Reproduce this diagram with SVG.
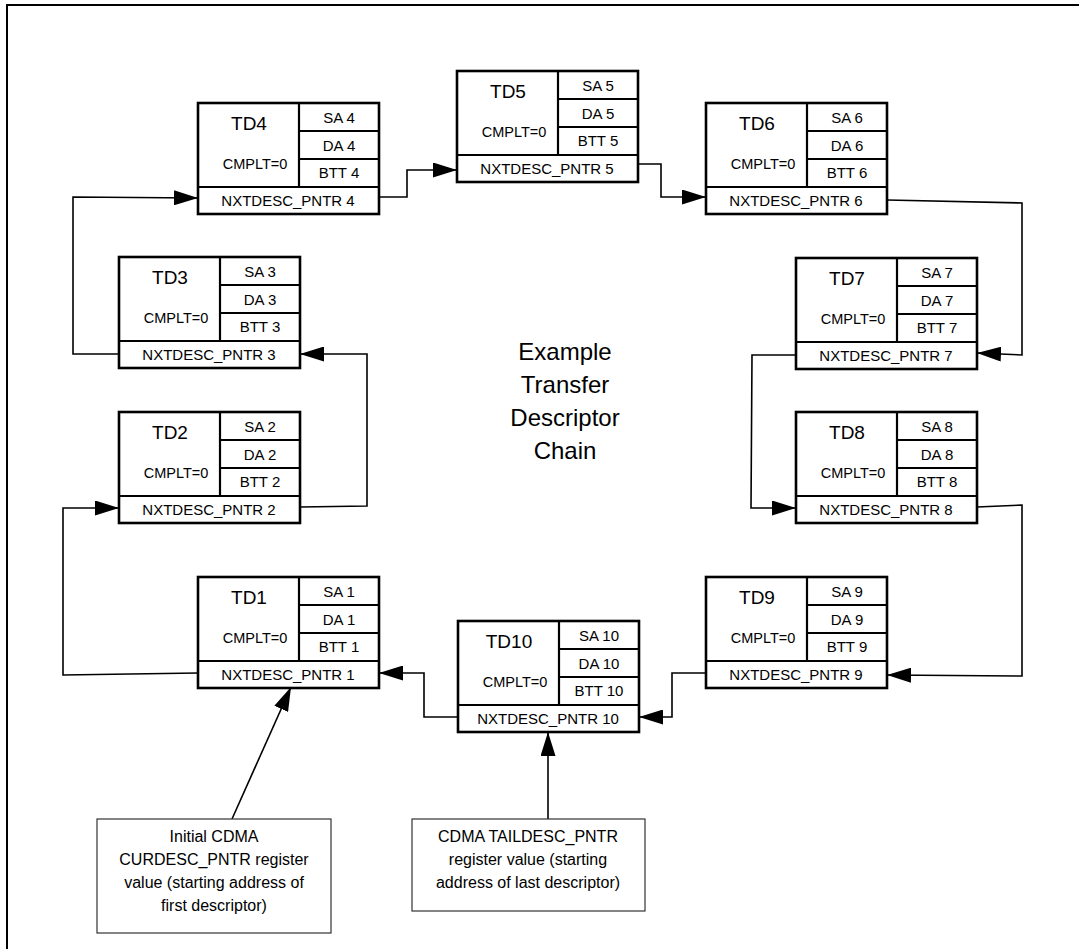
<svg xmlns="http://www.w3.org/2000/svg" width="1079" height="949" viewBox="0 0 1079 949">
<style>
  .box{fill:#fff;stroke:#000;stroke-width:2.6}
  .div{stroke:#000;stroke-width:2.2}
  text{font-family:"Liberation Sans",Arial,sans-serif;fill:#000;text-anchor:middle}
  .t{font-size:19px}
  .c{font-size:14.5px}
  .f{font-size:15px}
  .conn{fill:none;stroke:#000;stroke-width:1.6}
  .note{fill:#fff;stroke:#333;stroke-width:1.2}
  .nt{font-size:16px}
  .title{font-size:24px}
</style>
<defs>
  <marker id="ah" markerUnits="userSpaceOnUse" markerWidth="24" markerHeight="15" refX="24" refY="7.5" orient="auto">
    <path d="M0,0 L24,7.5 L0,15 z" fill="#000"/>
  </marker>
  <g id="tdframe">
    <rect class="box" x="0" y="0" width="181" height="111"/>
    <line class="div" x1="101" y1="0" x2="101" y2="84"/>
    <line class="div" x1="101" y1="28" x2="181" y2="28"/>
    <line class="div" x1="101" y1="56" x2="181" y2="56"/>
    <line class="div" x1="0" y1="84" x2="181" y2="84"/>
  </g>
</defs>
<rect width="1079" height="949" fill="#fff"/>
<polyline points="7,949 7,5 1079,5" fill="none" stroke="#000" stroke-width="2"/>

<g id="title">
  <text class="title" x="565" y="360">Example</text>
  <text class="title" x="565" y="393">Transfer</text>
  <text class="title" x="565" y="426">Descriptor</text>
  <text class="title" x="565" y="459">Chain</text>
</g>

<g id="connectors">
  <polyline class="conn" points="198,673 63,675 63,508 119,508" marker-end="url(#ah)"/>
  <polyline class="conn" points="300,507 367,506 367,354 300,354" marker-end="url(#ah)"/>
  <polyline class="conn" points="119,354 73,354 73,197 198,198" marker-end="url(#ah)"/>
  <polyline class="conn" points="379,197 407,197 407,170 457,170" marker-end="url(#ah)"/>
  <polyline class="conn" points="638,164 661,164 661,197 706,197" marker-end="url(#ah)"/>
  <polyline class="conn" points="887,200 1022,203 1022,355 977,353" marker-end="url(#ah)"/>
  <polyline class="conn" points="796,355 752,355 751,508 796,508" marker-end="url(#ah)"/>
  <polyline class="conn" points="977,507 1022,505 1022,676 887,675" marker-end="url(#ah)"/>
  <polyline class="conn" points="706,673 672,673 672,717 639,717" marker-end="url(#ah)"/>
  <polyline class="conn" points="458,717 424,717 424,673 379,673" marker-end="url(#ah)"/>
  <line class="conn" x1="232" y1="819" x2="291" y2="687" marker-end="url(#ah)"/>
  <line class="conn" x1="548" y1="819" x2="548" y2="732" stroke-width="2" marker-end="url(#ah)"/>
</g>

<g id="td1" transform="translate(198,577)">
  <use href="#tdframe"/>
  <text class="t" x="51" y="27">TD1</text><text class="c" x="57" y="66">CMPLT=0</text>
  <text class="f" x="141" y="20">SA 1</text><text class="f" x="141" y="48">DA 1</text><text class="f" x="141" y="75">BTT 1</text>
  <text class="f" x="90" y="103">NXTDESC_PNTR 1</text>
</g>
<g id="td2" transform="translate(119,412)">
  <use href="#tdframe"/>
  <text class="t" x="51" y="27">TD2</text><text class="c" x="57" y="66">CMPLT=0</text>
  <text class="f" x="141" y="20">SA 2</text><text class="f" x="141" y="48">DA 2</text><text class="f" x="141" y="75">BTT 2</text>
  <text class="f" x="90" y="103">NXTDESC_PNTR 2</text>
</g>
<g id="td3" transform="translate(119,257)">
  <use href="#tdframe"/>
  <text class="t" x="51" y="27">TD3</text><text class="c" x="57" y="66">CMPLT=0</text>
  <text class="f" x="141" y="20">SA 3</text><text class="f" x="141" y="48">DA 3</text><text class="f" x="141" y="75">BTT 3</text>
  <text class="f" x="90" y="103">NXTDESC_PNTR 3</text>
</g>
<g id="td4" transform="translate(198,103)">
  <use href="#tdframe"/>
  <text class="t" x="51" y="27">TD4</text><text class="c" x="57" y="66">CMPLT=0</text>
  <text class="f" x="141" y="20">SA 4</text><text class="f" x="141" y="48">DA 4</text><text class="f" x="141" y="75">BTT 4</text>
  <text class="f" x="90" y="103">NXTDESC_PNTR 4</text>
</g>
<g id="td5" transform="translate(457,71)">
  <use href="#tdframe"/>
  <text class="t" x="51" y="27">TD5</text><text class="c" x="57" y="66">CMPLT=0</text>
  <text class="f" x="141" y="20">SA 5</text><text class="f" x="141" y="48">DA 5</text><text class="f" x="141" y="75">BTT 5</text>
  <text class="f" x="90" y="103">NXTDESC_PNTR 5</text>
</g>
<g id="td6" transform="translate(706,103)">
  <use href="#tdframe"/>
  <text class="t" x="51" y="27">TD6</text><text class="c" x="57" y="66">CMPLT=0</text>
  <text class="f" x="141" y="20">SA 6</text><text class="f" x="141" y="48">DA 6</text><text class="f" x="141" y="75">BTT 6</text>
  <text class="f" x="90" y="103">NXTDESC_PNTR 6</text>
</g>
<g id="td7" transform="translate(796,258)">
  <use href="#tdframe"/>
  <text class="t" x="51" y="27">TD7</text><text class="c" x="57" y="66">CMPLT=0</text>
  <text class="f" x="141" y="20">SA 7</text><text class="f" x="141" y="48">DA 7</text><text class="f" x="141" y="75">BTT 7</text>
  <text class="f" x="90" y="103">NXTDESC_PNTR 7</text>
</g>
<g id="td8" transform="translate(796,412)">
  <use href="#tdframe"/>
  <text class="t" x="51" y="27">TD8</text><text class="c" x="57" y="66">CMPLT=0</text>
  <text class="f" x="141" y="20">SA 8</text><text class="f" x="141" y="48">DA 8</text><text class="f" x="141" y="75">BTT 8</text>
  <text class="f" x="90" y="103">NXTDESC_PNTR 8</text>
</g>
<g id="td9" transform="translate(706,577)">
  <use href="#tdframe"/>
  <text class="t" x="51" y="27">TD9</text><text class="c" x="57" y="66">CMPLT=0</text>
  <text class="f" x="141" y="20">SA 9</text><text class="f" x="141" y="48">DA 9</text><text class="f" x="141" y="75">BTT 9</text>
  <text class="f" x="90" y="103">NXTDESC_PNTR 9</text>
</g>
<g id="td10" transform="translate(458,621)">
  <use href="#tdframe"/>
  <text class="t" x="51" y="27">TD10</text><text class="c" x="57" y="66">CMPLT=0</text>
  <text class="f" x="141" y="20">SA 10</text><text class="f" x="141" y="48">DA 10</text><text class="f" x="141" y="75">BTT 10</text>
  <text class="f" x="90" y="103">NXTDESC_PNTR 10</text>
</g>

<g id="note1">
  <rect class="note" x="97" y="819" width="234" height="114"/>
  <text class="nt" x="214" y="842">Initial CDMA</text>
  <text class="nt" x="214" y="865">CURDESC_PNTR register</text>
  <text class="nt" x="214" y="888">value (starting address of</text>
  <text class="nt" x="214" y="911">first descriptor)</text>
</g>
<g id="note2">
  <rect class="note" x="412" y="819" width="233" height="92"/>
  <text class="nt" x="528" y="842">CDMA TAILDESC_PNTR</text>
  <text class="nt" x="528" y="865">register value (starting</text>
  <text class="nt" x="528" y="888">address of last descriptor)</text>
</g>
</svg>
